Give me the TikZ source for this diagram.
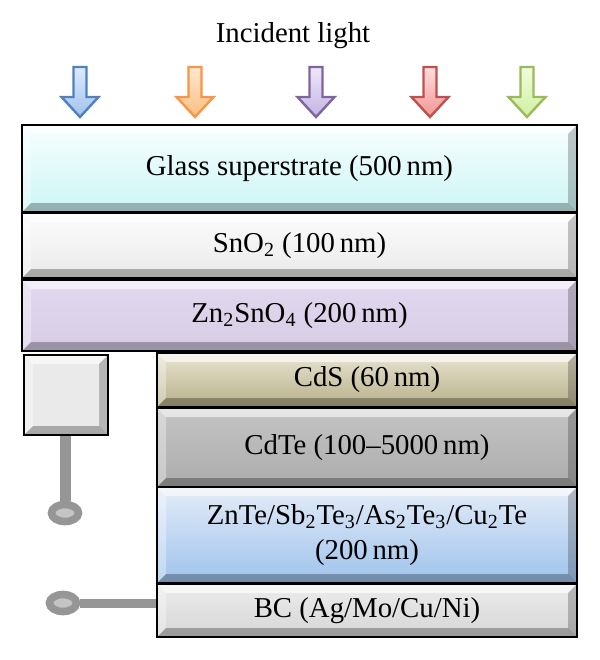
\documentclass[tikz,border=0pt]{standalone}
\usepackage{fontspec}
\setmainfont{Liberation Serif}
\usetikzlibrary{shapes.geometric}
\definecolor{GlassTop}{RGB}{248,254,254}
\definecolor{GlassBot}{RGB}{205,245,246}
\definecolor{SnTop}{RGB}{252,252,252}
\definecolor{SnBot}{RGB}{234,234,234}
\definecolor{ZnTop}{RGB}{226,216,240}
\definecolor{ZnBot}{RGB}{214,204,228}
\definecolor{CdSTop}{RGB}{232,228,208}
\definecolor{CdSBot}{RGB}{182,175,138}
\definecolor{CdTeTop}{RGB}{196,196,196}
\definecolor{CdTeBot}{RGB}{172,172,172}
\definecolor{ZnTeTop}{RGB}{228,236,248}
\definecolor{ZnTeBot}{RGB}{158,194,236}
\definecolor{BCTop}{RGB}{236,236,236}
\definecolor{BCBot}{RGB}{214,214,214}
\definecolor{WireClr}{RGB}{150,150,150}
\definecolor{RingClr}{RGB}{196,196,196}
% arrow colours: pen, light, deep
\definecolor{BluePen}{RGB}{79,129,189}
\definecolor{BlueLt}{RGB}{222,234,252}
\definecolor{BlueDp}{RGB}{160,194,240}
\definecolor{OrangePen}{RGB}{247,150,70}
\definecolor{OrangeLt}{RGB}{255,232,208}
\definecolor{OrangeDp}{RGB}{252,190,130}
\definecolor{PurplePen}{RGB}{128,100,162}
\definecolor{PurpleLt}{RGB}{238,232,248}
\definecolor{PurpleDp}{RGB}{196,178,228}
\definecolor{RedPen}{RGB}{192,80,77}
\definecolor{RedLt}{RGB}{252,222,222}
\definecolor{RedDp}{RGB}{242,150,148}
\definecolor{GreenPen}{RGB}{155,187,89}
\definecolor{GreenLt}{RGB}{240,252,222}
\definecolor{GreenDp}{RGB}{208,240,160}

\newcommand{\incarrow}[4]{%
  \draw[arrowpen,draw=#2,top color=#3,bottom color=#4]
    ({#1-6.5},67) -- ({#1+6.5},67) -- ({#1+6.5},97) -- ({#1+18.5},97)
    -- (#1,117) -- ({#1-18.5},97) -- ({#1-6.5},97) -- cycle;}

\tikzset{
  bevel/.style={path picture={
    \fill[white,opacity=.6] (path picture bounding box.north west) -- (path picture bounding box.north east)
      -- ([shift={(-4.5pt,-4.5pt)}]path picture bounding box.north east)
      -- ([shift={(4.5pt,-4.5pt)}]path picture bounding box.north west) -- cycle;
    \fill[white,opacity=.35] (path picture bounding box.north west) -- (path picture bounding box.south west)
      -- ([shift={(4.5pt,4.5pt)}]path picture bounding box.south west)
      -- ([shift={(4.5pt,-4.5pt)}]path picture bounding box.north west) -- cycle;
    \fill[black,opacity=.28] (path picture bounding box.south west) -- (path picture bounding box.south east)
      -- ([shift={(-4.5pt,4.5pt)}]path picture bounding box.south east)
      -- ([shift={(4.5pt,4.5pt)}]path picture bounding box.south west) -- cycle;
    \fill[black,opacity=.22] (path picture bounding box.north east) -- (path picture bounding box.south east)
      -- ([shift={(-4.5pt,4.5pt)}]path picture bounding box.south east)
      -- ([shift={(-4.5pt,-4.5pt)}]path picture bounding box.north east) -- cycle;
  }},
  stackbox/.style={draw=black,line width=1.4pt,inner sep=0pt,align=center,
    font=\fontsize{14.4}{17.5}\selectfont,bevel},
  arrowpen/.style={line width=1.2pt,line join=miter},
  wire/.style={draw=WireClr,line width=#1},
  ring/.style={ellipse,draw=WireClr,fill=RingClr,line width=3.8pt,inner sep=0pt,
    minimum width=13.5pt,minimum height=8.5pt}
}

\begin{document}
\begin{tikzpicture}[x=0.5pt,y=-0.5pt]
\useasboundingbox (0,0) rectangle (600,660);

\node[font=\fontsize{14.4}{17.5}\selectfont] (light) at (293,36) {Incident light};

\incarrow{80}{BluePen}{BlueLt}{BlueDp}
\incarrow{195}{OrangePen}{OrangeLt}{OrangeDp}
\incarrow{316}{PurplePen}{PurpleLt}{PurpleDp}
\incarrow{430}{RedPen}{RedLt}{RedDp}
\incarrow{527}{GreenPen}{GreenLt}{GreenDp}

% stack
\node[stackbox,top color=GlassTop,bottom color=GlassBot,minimum width=277.5pt,minimum height=43.5pt]
  (glass) at (299.5,168.5) {Glass superstrate (500\,nm)};
\node[stackbox,top color=SnTop,bottom color=SnBot,minimum width=277.5pt,minimum height=32.5pt]
  (sno) at (299.5,245.5) {SnO\textsubscript{2} (100\,nm)};
\node[stackbox,top color=ZnTop,bottom color=ZnBot,minimum width=277.5pt,minimum height=35.5pt]
  (zto) at (299.5,315.5) {Zn\textsubscript{2}SnO\textsubscript{4} (200\,nm)};
\node[stackbox,top color=CdSTop,bottom color=CdSBot,minimum width=210pt,minimum height=27pt]
  (cds) at (367,380) {CdS (60\,nm)};
\node[stackbox,top color=CdTeTop,bottom color=CdTeBot,minimum width=210pt,minimum height=39.5pt]
  (cdte) at (367,447.5) {CdTe (100--5000\,nm)};
\node[stackbox,top color=ZnTeTop,bottom color=ZnTeBot,minimum width=210pt,minimum height=48pt]
  (znte) at (367,535) {ZnTe/Sb\textsubscript{2}Te\textsubscript{3}/As\textsubscript{2}Te\textsubscript{3}/Cu\textsubscript{2}Te\\(200\,nm)};
\node[stackbox,top color=BCTop,bottom color=BCBot,minimum width=210pt,minimum height=26.5pt]
  (bc) at (367,610.5) {BC (Ag/Mo/Cu/Ni)};

% front contact and leads
\node[stackbox,top color=SnBot,bottom color=SnBot,minimum width=42pt,minimum height=40pt]
  (fc) at (66,395) {};
\node[ring] (ringa) at (65,513) {};
\node[ring] (ringb) at (63,603) {};

\draw[wire=5.5pt] (fc.south -| ringa.north) -- (ringa.north);
\draw[wire=4.5pt] (ringb.east) -- (ringb.east -| bc.west);

\end{tikzpicture}
\end{document}
